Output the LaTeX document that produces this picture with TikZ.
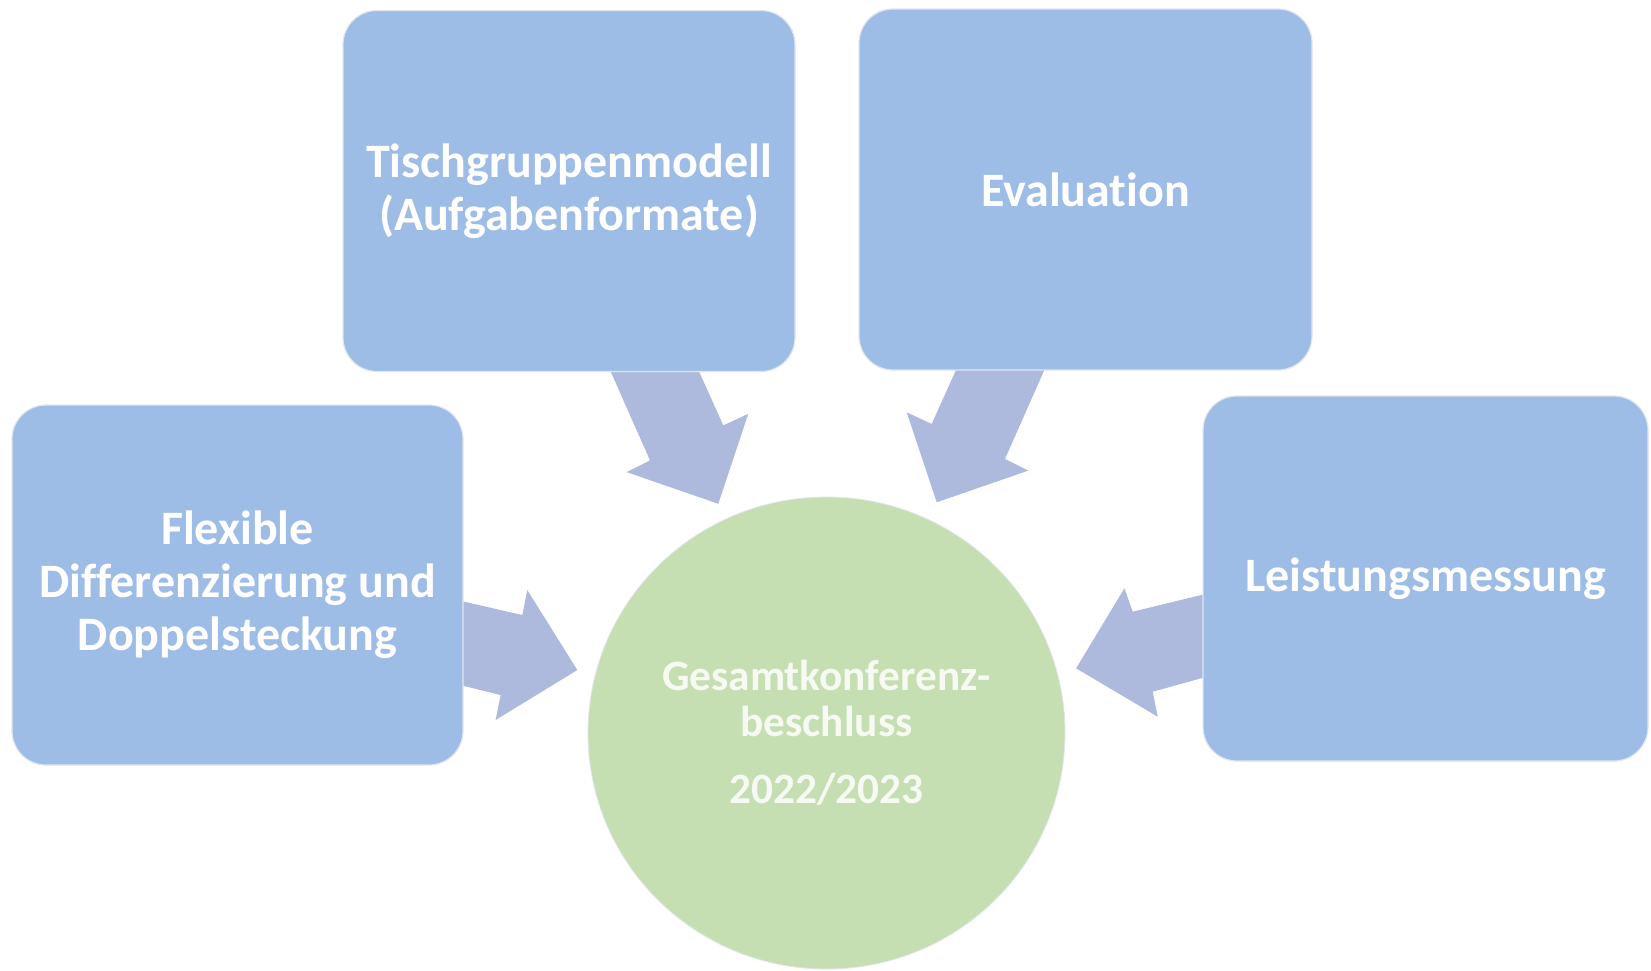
\documentclass[tikz,border=0pt]{standalone}
\usepackage{fontspec}
\setmainfont{Carlito}[Ligatures={NoCommon}]
\usetikzlibrary{shapes.geometric,backgrounds}
\definecolor{boxblue}{HTML}{9EBDE6}
\definecolor{arrowblue}{HTML}{ADBADD}
\definecolor{circgreen}{HTML}{C5DFB3}
\definecolor{circtext}{HTML}{F6FAF3}
\definecolor{boxline}{HTML}{E2E6EC}
\begin{document}
\begin{tikzpicture}[x=1pt,y=-1pt,
  box/.style={fill=boxblue, draw=boxline, line width=1.2pt, rounded corners=34pt,
    text=white, font=\bfseries\fontsize{48}{53}\selectfont, align=center, inner sep=0pt},
  blockarrow/.style={fill=arrowblue, draw=none},
  hub/.style={ellipse, fill=circgreen, draw=boxline, line width=0.8pt, text=circtext,
    font=\bfseries\fontsize{43.3}{46}\selectfont, align=center, inner sep=0pt,
    minimum width=477pt, minimum height=472pt}]
\useasboundingbox (0,0) rectangle (1651,970);

\node[box, minimum width=452pt, minimum height=361pt] (tisch) at (569,191)
  {Tischgruppenmodell\\(Aufgabenformate)};
\node[box, minimum width=453pt, minimum height=361pt] (eval) at (1085.5,189.5)
  {Evaluation};
\node[box, minimum width=451pt, minimum height=360pt] (flex) at (237.5,585)
  {Flexible\\Differenzierung und\\Doppelsteckung};
\node[box, minimum width=445pt, minimum height=365pt] (leist) at (1425.5,578.5)
  {Leistungsmessung};
\node[hub] (hub) at (826.5,733)
  {Gesamtkonferenz-\\beschluss\\[21pt]2022/2023};

\begin{scope}[on background layer]
  \fill[white] (0,0) rectangle (1651,970);
  \begin{scope}[shift={(tisch.south)}]
    \fill[blockarrow] (37.5,-10) -- (125.8,-10) -- (154.3,53.3) -- (179.3,41.7)
      -- (149.3,131.7) -- (57.7,100) -- (81,88.3) -- cycle;
  \end{scope}
  \begin{scope}[shift={(eval.south)}]
    \fill[blockarrow] (-37,-10) -- (-125.3,-10) -- (-153.8,53.3) -- (-178.8,41.7)
      -- (-148.8,131.7) -- (-57.2,100) -- (-80.5,88.3) -- cycle;
  \end{scope}
  \begin{scope}[shift={(flex.east)}]
    \fill[blockarrow] (-13,13.6) -- (58.7,30) -- (63.7,5) -- (113.7,85)
      -- (32,135) -- (37,110) -- (-13,97.7) -- cycle;
  \end{scope}
  \begin{scope}[shift={(leist.west)}]
    \fill[blockarrow] (12,13.3) -- (-69.7,33.2) -- (-78,9.8) -- (-126.3,89.8)
      -- (-44.7,138.2) -- (-49.7,113.2) -- (12,96.1) -- cycle;
  \end{scope}
\end{scope}
\end{tikzpicture}
\end{document}
